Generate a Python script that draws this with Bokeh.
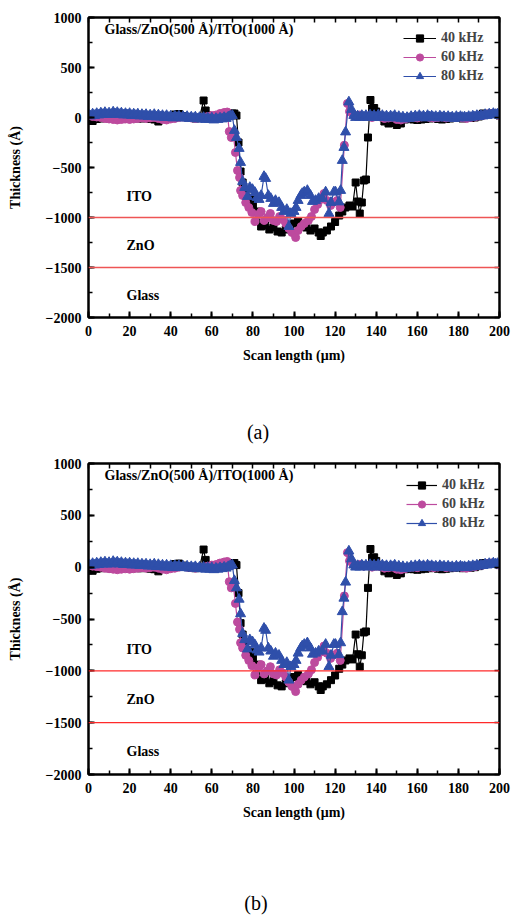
from bokeh.plotting import figure
from bokeh.models import (Span, Label, Legend, LegendItem, LinearAxis,
                          SingleIntervalTicker, FixedTicker, Range1d)
from bokeh.layouts import column
from bokeh.embed import file_html
from bokeh.resources import INLINE

# ---------------- data ----------------
x40 = [0, 2, 4, 6, 8, 10, 12, 14, 16, 18, 20, 22, 24, 26, 28, 30, 32, 34, 36, 38,
       40, 42, 44, 46, 48, 50, 52, 54, 56, 57, 58, 60, 62, 64, 66, 68, 70, 71, 72,
       73, 74, 75, 76, 77, 78, 79, 80, 82, 84, 86, 88, 90, 92, 94, 96, 98, 100,
       102, 104, 106, 108, 110, 112, 113, 114, 116, 118, 120, 122, 123.5, 125,
       127, 128.5, 130, 131, 132, 133, 134, 135, 136, 137.2, 138, 139, 140, 142,
       144, 146, 148, 150, 152, 154, 156, 158, 160, 162, 164, 166, 168, 170, 172,
       174, 176, 178, 180, 182, 184, 186, 188, 190, 192, 194, 196, 198, 200]
y40 = [-30, -35, -15, -10, -5, -10, -15, -10, -5, -10, -15, -5, -10, -10, -5, -15,
       -20, -40, -10, 0, -5, 30, 35, 15, 5, -5, -10, -5, 170, 70, 20, 10, 15, 20,
       25, 35, 40, 40, 20, -250, -540, -650, -740, -800, -860, -820, -880, -940,
       -1090, -1080, -1120, -1100, -1140, -1150, -1120, -1100, -1060, -1040, -1080,
       -1100, -1130, -1110, -1150, -1185, -1150, -1130, -1090, -1045, -980, -940,
       -900, -880, -890, -650, -840, -960, -850, -630, -620, -200, 175, 90, 95, 60,
       10, -40, -60, -55, -75, -60, -20, -15, -20, -25, -20, -15, -10, -5, -15, -20,
       -15, -10, -5, 0, -10, -5, -5, 0, 10, 40, 35, 40, 40, 20]

x60 = [0, 2, 4, 6, 8, 10, 12, 14, 16, 18, 20, 22, 24, 26, 28, 30, 32, 34, 36, 38,
       40, 42, 44, 46, 48, 50, 52, 54, 56, 58, 60, 62, 64, 66, 67.5, 68.5, 69.5,
       70.5, 71.5, 72.5, 73.5, 74, 75, 76.5, 78, 79.5, 81, 82.5, 84, 85.5, 87, 88.5,
       90, 91.5, 93, 94.5, 96, 97.5, 99, 100.8, 102, 103.5, 105, 107, 108.5, 110,
       111.5, 113, 114.6, 116, 117.8, 119, 121, 122.5, 124.5, 126, 127, 128.4, 130,
       132, 134, 136, 138, 140, 142, 144, 146, 148, 150, 152, 154, 156, 158, 160,
       162, 164, 166, 168, 170, 172, 174, 176, 178, 180, 182, 184, 186, 188, 190,
       192, 194, 196, 198, 200]
y60 = [20, 10, 5, 0, -10, -15, -20, -25, -20, -15, -20, -15, -10, -5, -10, -5, 0,
       -10, -20, -25, -15, -10, 0, 5, 0, -5, -10, -5, 0, 10, 20, 25, 40, 50, 55,
       -140, -200, -180, -350, -530, -600, -730, -780, -850, -900, -950, -1040,
       -970, -940, -1030, -1000, -960, -1030, -1040, -990, -1020, -1060, -1110,
       -1150, -1200, -1130, -1090, -1060, -1030, -990, -920, -870, -820, -760, -830,
       -880, -850, -830, -900, -277, 140, 60, 40, 20, 25, 10, 15, 0, 10, 5, -10, -5,
       0, -20, -25, -15, -5, 0, -5, 5, 10, 0, -5, 0, 5, -5, 0, 0, 5, -5, -10, 0, 5,
       15, 20, 35, 40, 35, 20]

x80 = [0, 1, 2, 3, 4, 5, 6, 7, 8, 9, 10, 11, 12, 13, 14, 15, 16, 17, 18, 19, 20,
       21, 22, 23, 24, 25, 26, 27, 28, 29, 30, 31, 32, 33, 34, 35, 36, 37, 38, 39,
       40, 41, 42, 43, 44, 45, 46, 47, 48, 49, 50, 51, 52, 53, 54, 55, 56, 57, 58,
       59, 60, 61, 62, 63, 64, 65, 66, 67, 68, 69, 70, 71, 72, 73.3, 74, 75, 76,
       77.4, 78.5, 79.8, 81, 82, 83, 84, 85.4, 86.2, 87.5, 88.7, 90, 91, 92.7, 94,
       95.1, 96.5, 97.5, 98.5, 100, 101, 102, 103.3, 104, 105, 106.5, 108, 109,
       110.5, 112, 113.8, 115.4, 117, 118, 119.4, 120.2, 121.9, 122.7, 123.5, 124.3,
       125.1, 126.7, 128, 129.1, 130, 131, 132, 133, 134, 135, 136, 137, 138, 139,
       140, 141, 142, 143, 144, 145, 146, 147, 148, 149, 150, 151, 152, 153, 154,
       155, 156, 157, 158, 159, 160, 161, 162, 163, 164, 165, 166, 167, 168, 169,
       170, 171, 172, 173, 174, 175, 176, 177, 178, 179, 180, 181, 182, 183, 184,
       185, 186, 187, 188, 189, 190, 191, 192, 193, 194, 195, 196, 197, 198, 199,
       200]
y80 = [30, 15, 35, 20, 40, 25, 45, 30, 50, 30, 45, 30, 55, 35, 50, 30, 45, 25, 40,
       25, 40, 20, 35, 20, 35, 15, 30, 15, 30, 10, 25, 10, 30, 5, 25, 5, 20, 0, 20,
       0, 15, -5, 15, 0, 15, -5, 10, -5, 10, -10, 5, -10, 5, -15, 0, -15, 0, -20,
       -5, -20, -5, -25, -10, -20, -5, -15, 0, -10, 5, 15, 20, -130, -200, -310,
       -450, -640, -700, -790, -700, -720, -750, -800, -820, -780, -590, -610, -780,
       -810, -860, -830, -850, -900, -940, -920, -1090, -960, -940, -900, -830,
       -780, -760, -745, -730, -780, -840, -830, -810, -810, -745, -960, -850,
       -745, -745, -845, -730, -430, -300, -145, 155, 80, 20, 0, 15, 0, 20, 5, 20,
       0, 25, 5, 20, 0, 25, 5, 20, 0, 15, -5, 15, 0, 20, -5, 10, -10, 5, -15, 0,
       -10, 10, -5, 15, 0, 20, 0, 15, -5, 20, 5, 15, 0, 10, -5, 15, 0, 10, -5, 10,
       -5, 5, -10, 10, -5, 10, 0, 5, -5, 10, 0, 15, 5, 20, 10, 20, 15, 30, 20, 35,
       25, 40, 30, 35, 20]

series_labels = ["40 kHz", "60 kHz", "80 kHz"]
series_colors = ["#000000", "#BD4A9E", "#2F4FAA"]
series_markers = ["square", "circle", "triangle"]
series_sizes = [7, 8, 10]

layer_bounds = [-1000, -1500]
layer_names = ["ITO", "ZnO", "Glass"]
layer_label_y = [-790, -1275, -1775]
layer_label_x = 18.5

sample_title = "Glass/ZnO(500 \u00c5)/ITO(1000 \u00c5)"
x_label = "Scan length (\u03bcm)"
y_label = "Thickness (\u00c5)"
captions = ["(a)", "(b)"]

FONT = "Liberation Serif"


def style_axis(ax):
    ax.axis_line_width = 2
    ax.axis_line_color = "black"
    ax.major_tick_in = 6
    ax.major_tick_out = 0
    ax.minor_tick_in = 4
    ax.minor_tick_out = 0
    ax.major_tick_line_width = 2
    ax.minor_tick_line_width = 1.5
    ax.major_tick_line_color = "black"
    ax.minor_tick_line_color = "black"
    ax.major_label_text_font = FONT
    ax.major_label_text_font_style = "bold"
    ax.major_label_text_font_size = "14px"
    ax.major_label_text_color = "black"
    ax.axis_label_text_font = FONT
    ax.axis_label_text_font_style = "bold"
    ax.axis_label_text_font_size = "14px"
    ax.axis_label_text_color = "black"


def make_panel(height, left, right, top, bottom, legend_loc, glyph_w,
               red_color, red_width):
    p = figure(width=515, height=height, x_range=Range1d(0, 200),
               y_range=Range1d(-2000, 1000), output_backend="svg",
               toolbar_location=None, min_border_left=left,
               min_border_right=right, min_border_top=top,
               min_border_bottom=bottom)
    p.xgrid.visible = False
    p.ygrid.visible = False
    p.outline_line_color = "black"
    p.outline_line_width = 2
    p.background_fill_color = "white"
    p.border_fill_color = "white"

    p.xaxis.ticker = SingleIntervalTicker(interval=20, num_minor_ticks=2)
    p.yaxis.ticker = SingleIntervalTicker(interval=500, num_minor_ticks=2)
    style_axis(p.xaxis[0])
    style_axis(p.yaxis[0])
    p.xaxis.axis_label = x_label
    p.yaxis.axis_label = y_label
    p.xaxis.major_label_standoff = 8
    p.yaxis.major_label_standoff = 7
    p.xaxis.axis_label_standoff = 9
    p.yaxis.axis_label_standoff = 20

    # unlabeled tick marks on the top and right frame edges
    top_ax = LinearAxis(ticker=FixedTicker(ticks=[],
                        minor_ticks=list(range(0, 201, 10))))
    right_ax = LinearAxis(ticker=FixedTicker(ticks=[],
                          minor_ticks=list(range(-2000, 1001, 250))))
    for ax in (top_ax, right_ax):
        style_axis(ax)
        ax.minor_tick_in = 5
        ax.minor_tick_line_width = 1.5
    p.add_layout(top_ax, "above")
    p.add_layout(right_ax, "right")

    for b in layer_bounds:
        p.add_layout(Span(location=b, dimension="width", line_color=red_color,
                          line_width=red_width))

    items = []
    for xs, ys, lab, col, mk, sz in zip([x40, x60, x80], [y40, y60, y80],
                                        series_labels, series_colors,
                                        series_markers, series_sizes):
        ln = p.line(xs, ys, line_color=col, line_width=1.2)
        sc = p.scatter(xs, ys, marker=mk, size=sz, fill_color=col,
                       line_color=col)
        items.append(LegendItem(label=lab, renderers=[ln, sc]))

    leg = Legend(items=items, location=legend_loc, border_line_color=None,
                 background_fill_alpha=0, glyph_width=glyph_w, glyph_height=18,
                 spacing=1, padding=0, margin=0, label_standoff=5,
                 label_text_font=FONT, label_text_font_style="bold",
                 label_text_font_size="14px", label_height=18)
    p.add_layout(leg)

    p.add_layout(Label(x=7.8, y=884, text=sample_title, text_font=FONT,
                       text_font_style="bold", text_font_size="14px",
                       text_baseline="middle", text_color="black"))
    for nm, ly in zip(layer_names, layer_label_y):
        p.add_layout(Label(x=layer_label_x, y=ly, text=nm, text_font=FONT,
                           text_font_style="bold", text_font_size="14px",
                           text_baseline="middle", text_color="black"))
    return p


def make_caption(text, height, cx, cy):
    # the column aligns this frame with the panels' frames, so x uses the
    # same 0-200 scale as the plots above it
    c = figure(width=515, height=height, x_range=Range1d(0, 200),
               y_range=Range1d(0, height), output_backend="svg",
               toolbar_location=None, x_axis_location=None,
               y_axis_location=None, min_border=0, min_border_left=0,
               min_border_right=0, min_border_top=0, min_border_bottom=0)
    c.xgrid.visible = False
    c.ygrid.visible = False
    c.outline_line_color = None
    c.background_fill_color = "white"
    c.border_fill_color = "white"
    c.add_layout(Label(x=cx, y=cy, text=text, text_font=FONT,
                       text_font_size="20px", text_align="center",
                       text_baseline="middle", text_color="black"))
    return c


pa = make_panel(height=380, left=87, right=16, top=17, bottom=63,
                legend_loc=(315, 232), glyph_w=33, red_color="#EE5555",
                red_width=1.6)
ca = make_caption(captions[0], 70, 82.5, 19)
pb = make_panel(height=387, left=88, right=12, top=13, bottom=63,
                legend_loc=(318, 242), glyph_w=31, red_color="#FF2A2A",
                red_width=1.2)
cb = make_caption(captions[1], 78, 81.5, 13)

layout = column(pa, ca, pb, cb, spacing=0)
open("out.html", "w").write(file_html(layout, INLINE))
